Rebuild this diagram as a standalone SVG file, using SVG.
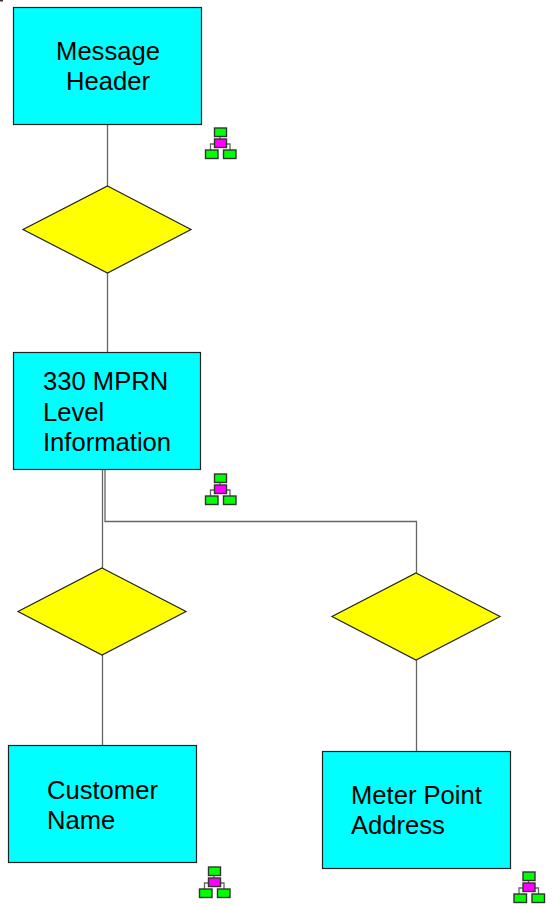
<svg xmlns="http://www.w3.org/2000/svg" width="556" height="907" viewBox="0 0 556 907">
<defs>
<style>
.box{fill:#00ffff;stroke:#222;stroke-width:1.2}
.dia{fill:#ffff00;stroke:#222;stroke-width:1.2}
.lbl{font-family:"Liberation Sans",Arial,sans-serif;font-size:25.6px;fill:#000}
.con{fill:none;stroke:#666;stroke-width:1.3}
.ic{stroke:#333;stroke-width:1.4}
.g{fill:#00ff00}
.m{fill:#ff00ff}
</style>
<g id="icon">
<path class="con" d="M6.500 7V16M6.500 16H-3V23M6.500 16H16.500V23"/>
<rect class="ic g" x="1" y="0" width="12" height="8.500"/>
<rect class="ic m" x="1" y="11" width="12" height="8.500"/>
<rect class="ic g" x="-8" y="22" width="12.500" height="8.500"/>
<rect class="ic g" x="10" y="22" width="12.500" height="8.500"/>
</g>
</defs>
<rect width="556" height="907" fill="#fff"/>
<rect x="0" y="0" width="3" height="1.500" fill="#333"/>
<g id="connectors">
<path class="con" d="M107.500 124V186"/>
<path class="con" d="M107.500 273V352"/>
<path class="con" d="M102.500 469V568"/>
<path class="con" d="M105 469V521.500H416.500V573"/>
<path class="con" d="M102.500 655V745"/>
<path class="con" d="M416.500 660V751"/>
</g>
<g id="message-header">
<rect class="box" x="13.500" y="7.500" width="188" height="117"/>
<text class="lbl" x="108" y="60" text-anchor="middle">Message</text>
<text class="lbl" x="108" y="90" text-anchor="middle">Header</text>
</g>
<g id="icon-1"><use href="#icon" x="213.500" y="128"/></g>
<g id="diamond-1"><polygon class="dia" points="107.500,186 191,229.500 107.500,273 23,229.500"/></g>
<g id="mprn-level">
<rect class="box" x="13.500" y="352.500" width="187" height="117"/>
<text class="lbl" x="43" y="390">330 MPRN</text>
<text class="lbl" x="43" y="421">Level</text>
<text class="lbl" x="43" y="451">Information</text>
</g>
<g id="icon-2"><use href="#icon" x="213.500" y="474"/></g>
<g id="diamond-2"><polygon class="dia" points="102,568 186,611.500 102,655 18,611.500"/></g>
<g id="diamond-3"><polygon class="dia" points="416,573 500,616.500 416,660 332,616.500"/></g>
<g id="customer-name">
<rect class="box" x="8.500" y="745.500" width="188" height="117"/>
<text class="lbl" x="47" y="799">Customer</text>
<text class="lbl" x="47" y="829">Name</text>
</g>
<g id="icon-3"><use href="#icon" x="207.500" y="867"/></g>
<g id="meter-point-address">
<rect class="box" x="322.500" y="751.500" width="188" height="117"/>
<text class="lbl" x="351" y="804">Meter Point</text>
<text class="lbl" x="351" y="834">Address</text>
</g>
<g id="icon-4"><use href="#icon" x="522" y="872"/></g>
</svg>
